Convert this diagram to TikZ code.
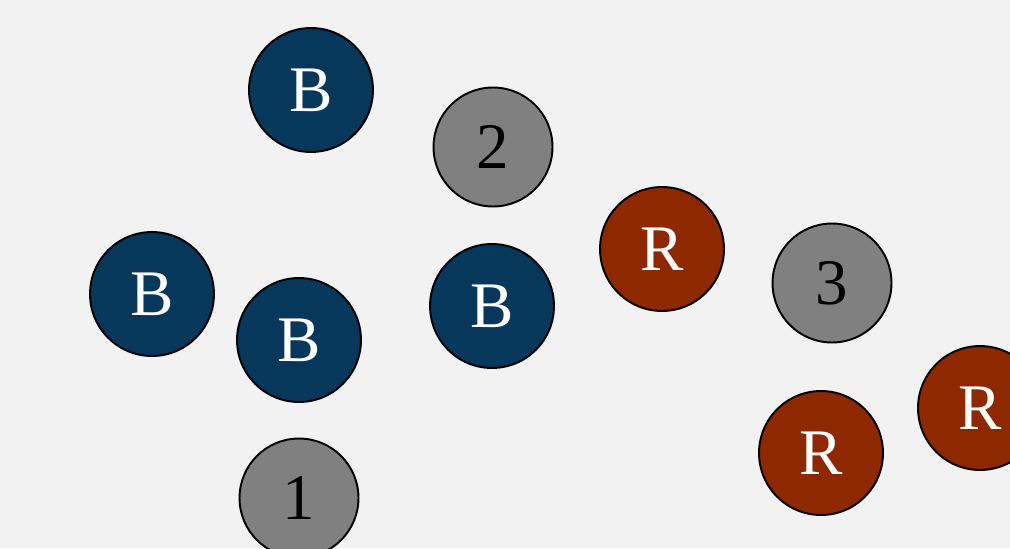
\documentclass[tikz,border=0pt]{standalone}
\usepackage{fontspec}
\setmainfont{Liberation Serif}
\definecolor{bgcol}{RGB}{242,242,242}
\definecolor{bluecol}{RGB}{8,55,92}
\definecolor{redcol}{RGB}{142,40,0}
\definecolor{graycol}{RGB}{128,128,128}
\tikzset{
  token/.style={circle, draw=black, line width=1.1pt, inner sep=0pt,
    minimum size=2.48cm, font=\fontsize{37}{37}\selectfont},
  bnode/.style={token, fill=bluecol, text=white},
  rnode/.style={token, fill=redcol, text=white},
  gnode/.style={token, fill=graycol, text=black, minimum size=2.38cm}
}
\begin{document}
\begin{tikzpicture}[x=0.02cm, y=-0.02cm]

% Background
\fill[bgcol] (0,0) rectangle (1010,548);
\useasboundingbox (0,0) rectangle (1010,548);

% Blue nodes
\node[bnode] (B1) at (311,90) {B};
\node[bnode] (B2) at (152,294) {B};
\node[bnode] (B3) at (299,340) {B};
\node[bnode] (B4) at (492,306) {B};

% Red nodes
\node[rnode] (R1) at (662,249) {R};
\node[rnode] (R2) at (821,453) {R};
\node[rnode] (R3) at (980,408) {R};

% Numbered nodes
\node[gnode] (N1) at (299,498) {1};
\node[gnode] (N2) at (493,147) {2};
\node[gnode] (N3) at (832,283) {3};

\end{tikzpicture}
\end{document}
